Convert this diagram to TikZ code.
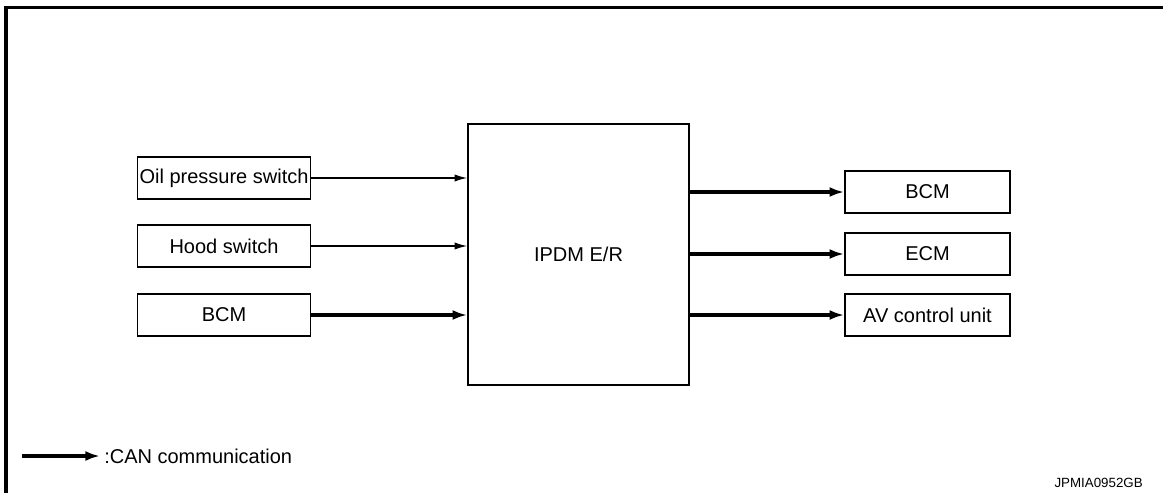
\documentclass[tikz,border=0pt]{standalone}
\usepackage{fontspec}
\setmainfont{Liberation Sans}
\usetikzlibrary{arrows.meta}
\begin{document}
\begin{tikzpicture}[
x=0.75pt, y=-0.75pt,
unitbox/.style={draw, rectangle, line width=1.2pt, inner sep=0pt, minimum height=31.5pt, font=\fontsize{15}{18}\selectfont},
leftbox/.style={unitbox, minimum width=129.75pt},
rightbox/.style={unitbox, minimum width=123.75pt},
sigline/.style={line width=1pt, -{Latex[length=9.5pt,width=5.5pt]}},
canline/.style={line width=3pt, -{Latex[length=11pt,width=7.5pt]}}
]
\useasboundingbox (0,0) rectangle (1163,493);

% frame
\draw[line width=2.6pt] (1163,7.5) -- (6,7.5) -- (6,493);

% inputs
\node at (224,178) [leftbox] (oilsw) {Oil pressure switch};
\node at (224,246) [leftbox] (hoodsw) {Hood switch};
\node at (224,315) [leftbox] (bcmin) {BCM};

% IPDM
\node at (578.5,254.5) [unitbox, minimum width=165.75pt, minimum height=195.75pt] (ipdm) {IPDM E/R};

% outputs
\node at (927.5,192) [rightbox] (bcmout) {BCM};
\node at (927.5,254) [rightbox] (ecm) {ECM};
\node at (927.5,315) [rightbox] (avcu) {AV control unit};

\draw[sigline] (oilsw.east) -- (oilsw.east -| ipdm.west);
\draw[sigline] (hoodsw.east) -- (hoodsw.east -| ipdm.west);
\draw[canline] (bcmin.east) -- (bcmin.east -| ipdm.west);

\draw[canline] (ipdm.east |- bcmout.west) -- (bcmout.west);
\draw[canline] (ipdm.east |- ecm.west) -- (ecm.west);
\draw[canline] (ipdm.east |- avcu.west) -- (avcu.west);

% legend
\coordinate (lgstart) at (22,456);
\node at (104,456) [anchor=west, inner sep=0pt, font=\fontsize{15}{18}\selectfont] (lgtext) {:CAN communication};
\draw[canline] (lgstart) -- ([xshift=-3pt]lgtext.west);

\node at (1143,483) [anchor=east, inner sep=0pt, font=\fontsize{10}{12}\selectfont] (code) {JPMIA0952GB};

\end{tikzpicture}
\end{document}
